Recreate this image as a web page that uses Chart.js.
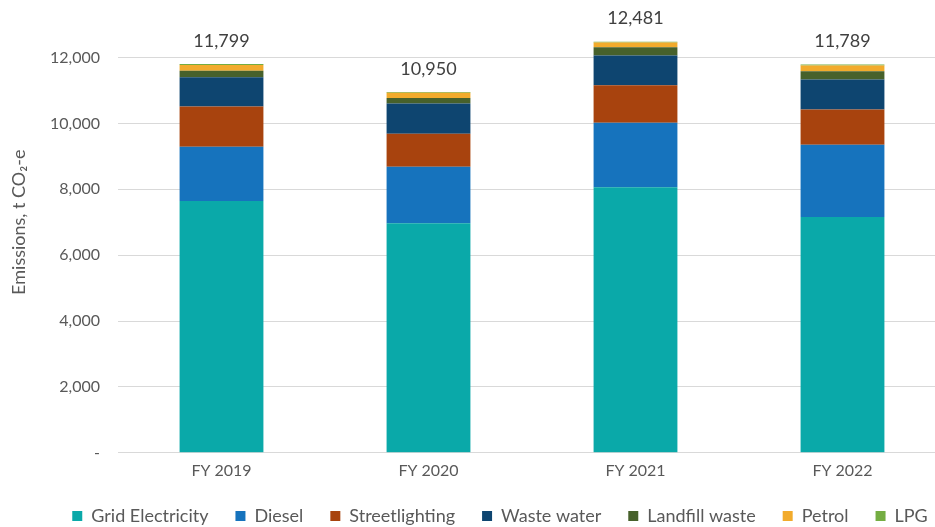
<!DOCTYPE html>
<html>
<head>
<meta charset="utf-8">
<script src="https://cdn.jsdelivr.net/npm/chart.js@4/dist/chart.umd.min.js"></script>
<style>
  html, body { margin: 0; padding: 0; background: #fff; overflow: hidden; }
  #wrap { position: relative; width: 935px; height: 527px; overflow: hidden; }
  #box { position: absolute; left: 0; top: -36px; width: 996px; height: 571px; }
</style>
</head>
<body>
<div id="wrap"><div id="box"><canvas id="emChart"></canvas></div></div>
<script>
const years = ["FY 2019", "FY 2020", "FY 2021", "FY 2022"];
const gridElectricity = [7640, 6970, 8060, 7160];
const diesel = [1650, 1710, 1960, 2190];
const streetlighting = [1220, 1006, 1137, 1070];
const wasteWater = [890, 914, 905, 910];
const landfillWaste = [200, 170, 245, 250];
const petrol = [170, 160, 150, 180];
const lpg = [29, 20, 24, 29];
const totals = [11799, 10950, 12481, 11789];

const FONT = "Lato, 'Liberation Sans', sans-serif";

// total emissions printed above each stacked column
const totalLabels = {
  id: "totalLabels",
  afterDatasetsDraw(chart) {
    const ctx = chart.ctx;
    const y = chart.scales.y;
    const x = chart.scales.x;
    ctx.save();
    ctx.font = "18px " + FONT;
    ctx.fillStyle = "#404040";
    ctx.textAlign = "center";
    ctx.textBaseline = "bottom";
    totals.forEach((t, i) => {
      ctx.fillText(t.toLocaleString("en-US"), x.getPixelForValue(i), y.getPixelForValue(t) - 14);
    });
    ctx.restore();
  }
};

const ds = (label, data, color) => ({
  label: label, data: data, backgroundColor: color,
  barPercentage: 0.405, categoryPercentage: 1.0
});

new Chart(document.getElementById("emChart").getContext("2d"), {
  type: "bar",
  data: {
    labels: years,
    datasets: [
      ds("Grid Electricity", gridElectricity, "#0AA9A9"),
      ds("Diesel", diesel, "#1673BD"),
      ds("Streetlighting", streetlighting, "#A8430E"),
      ds("Waste water", wasteWater, "#0E4570"),
      ds("Landfill waste", landfillWaste, "#47612B"),
      ds("Petrol", petrol, "#F2AB2C"),
      ds("LPG", lpg, "#74AD42")
    ]
  },
  options: {
    responsive: true,
    maintainAspectRatio: false,
    animation: false,
    layout: { padding: { top: 0, right: 0, bottom: 0, left: 4 } },
    plugins: {
      legend: {
        position: "bottom",
        labels: {
          boxWidth: 10, boxHeight: 10, padding: 27,
          color: "#595959", font: { family: FONT, size: 18 }
        }
      },
      tooltip: { enabled: false }
    },
    scales: {
      x: {
        stacked: true,
        grid: { display: false },
        border: { color: "#D9D9D9" },
        ticks: { padding: 0, color: "#595959", font: { family: FONT, size: 16 } }
      },
      y: {
        stacked: true,
        min: 0, max: 14000,
        afterFit(s) { s.width = 114; },
        grid: { color: "#D9D9D9", drawTicks: false },
        border: { display: false },
        ticks: {
          stepSize: 2000, padding: 18, color: "#595959",
          font: { family: FONT, size: 16 },
          callback: v => v === 0 ? "-" : (v > 12000 ? "" : v.toLocaleString("en-US"))
        },
        title: {
          display: true, text: "Emissions, t CO₂-e", color: "#595959",
          font: { family: FONT, size: 18 }, padding: { bottom: 10 }
        }
      },
      // empty right-hand margin of the plot
      yPad: {
        position: "right",
        afterFit(s) { s.width = 50; },
        grid: { display: false },
        border: { display: false },
        ticks: { display: false }
      }
    }
  },
  plugins: [totalLabels]
});
</script>
</body>
</html>
